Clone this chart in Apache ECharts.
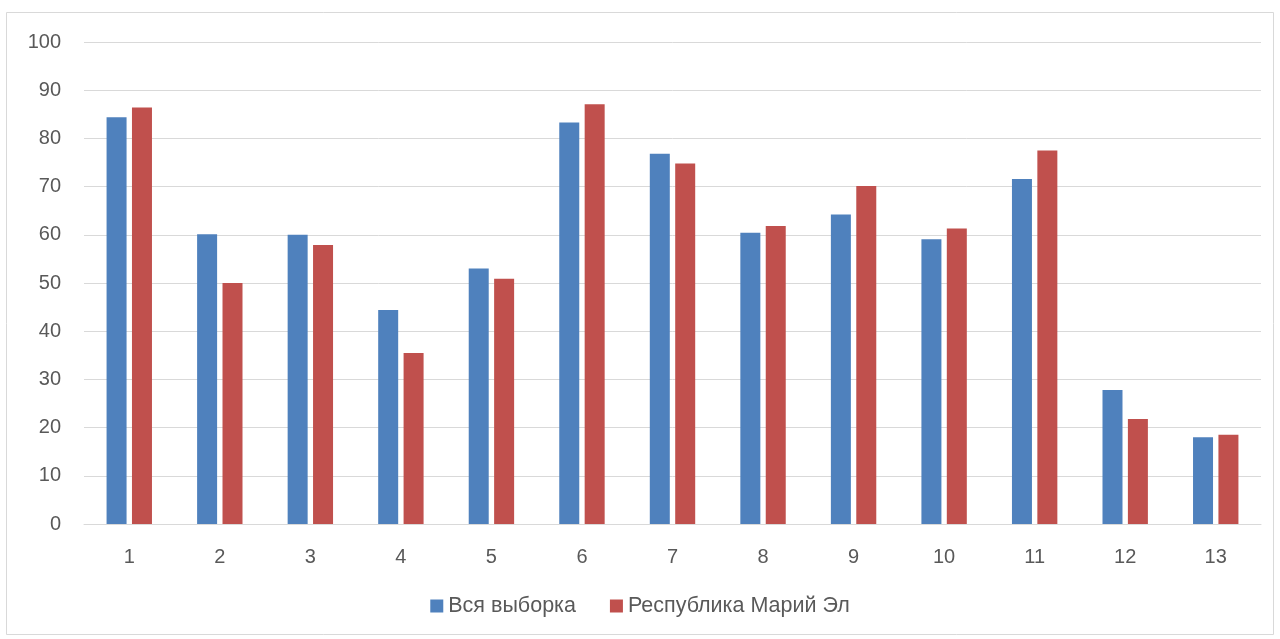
<!DOCTYPE html>
<html><head><meta charset="utf-8">
<script src="https://cdn.jsdelivr.net/npm/echarts@6/dist/echarts.min.js"></script>
<style>html,body{margin:0;padding:0;background:#fff}#c{width:1280px;height:639px}</style>
</head><body><div id="c"></div>
<script>
const categories = ['1','2','3','4','5','6','7','8','9','10','11','12','13'];
const seriesNames = ['Вся выборка', 'Республика Марий Эл'];
const allSample = [84.4, 60.1, 60.0, 44.4, 53.0, 83.3, 76.8, 60.4, 64.2, 59.1, 71.6, 27.8, 18.0];
const mariEl = [86.4, 50.0, 57.9, 35.5, 50.9, 87.1, 74.8, 61.8, 70.1, 61.3, 77.5, 21.8, 18.5];

const chart = echarts.init(document.getElementById('c'));
const font = 'Liberation Sans, Arial, sans-serif';
chart.setOption({
  animation: false,
  backgroundColor: '#fff',
  graphic: [{type:'rect', shape:{x:6.5,y:12.5,width:1267,height:622}, style:{fill:'none', stroke:'#d9d9d9', lineWidth:1}, z:-1}],
  grid: {left: 84, right: 19, top: 42, bottom: 115, containLabel: false},
  legend: {
    bottom: 17, left: 'center', itemWidth: 13, itemHeight: 13, itemGap: 34,
    icon: 'rect',
    textStyle: {fontFamily: font, fontSize: 21.5, color: '#595959'},
    data: seriesNames
  },
  xAxis: {
    type: 'category', data: categories,
    axisLine: {lineStyle: {color: '#d9d9d9', width: 1}},
    axisTick: {show: false},
    axisLabel: {fontFamily: font, fontSize: 20, color: '#595959', margin: 23}
  },
  yAxis: {
    type: 'value', min: 0, max: 100, interval: 10,
    axisLine: {show: false}, axisTick: {show: false},
    splitLine: {lineStyle: {color: '#d9d9d9', width: 1}},
    axisLabel: {fontFamily: font, fontSize: 20, color: '#595959', margin: 23}
  },
  series: [
    {name: seriesNames[0], type: 'bar', data: allSample, barWidth: 20, barGap: '27%', itemStyle: {color: '#4f81bd'}},
    {name: seriesNames[1], type: 'bar', data: mariEl, barWidth: 20, barGap: '27%', itemStyle: {color: '#c0504d'}}
  ]
});
</script></body></html>
